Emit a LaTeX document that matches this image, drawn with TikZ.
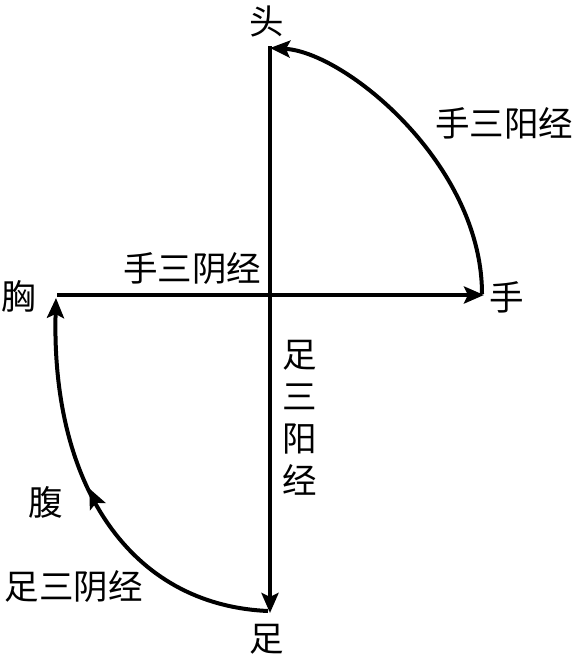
\documentclass[tikz,border=0pt]{standalone}
\usepackage{fontspec}
\setmainfont{Noto Sans CJK SC}
\usetikzlibrary{arrows.meta,decorations.markings}
\begin{document}
\begin{tikzpicture}[x=1pt,y=-1pt,
  tipstyle/.tip={Stealth[length=20pt,width=17pt,inset=4pt]},
  conn/.style={line width=4pt, -tipstyle},
  midarrow/.style={postaction={decorate},
    decoration={markings, mark=at position #1 with {\arrow{tipstyle}}}},
  lbl/.style={font=\fontsize{34.5}{42}\selectfont, inner sep=0pt, align=center}]
\useasboundingbox (0,0) rectangle (577,659);
% labels
\node[lbl] (tou) at (267,21) {头};
\node[lbl] (shou) at (507,297) {手};
\node[lbl] (xiong) at (19,296) {胸};
\node[lbl] (zu) at (267,639) {足};
\node[lbl] (fu) at (46,502) {腹};
\node[lbl] (sy) at (504,123) {手三阳经};
\node[lbl] (syin) at (192,269) {手三阴经};
\node[lbl] (zyin) at (74,587) {足三阴经};
\node[lbl] (zy) at (300,418) {足\\三\\阳\\经};
% end points
\coordinate (top) at (270,46);
\coordinate (bot) at (270,613);
\coordinate (left) at (57,295);
\coordinate (right) at (484,295);
\coordinate (rarcs) at (482,294);
\coordinate (rarce) at (270,48);
\coordinate (larcs) at (268,611);
\coordinate (larce) at (56,298);
% axes
\draw[conn] (left) -- (right);
\draw[conn] (top) -- (bot);
% arcs
\draw[conn] (rarcs) .. controls (482,164) and (345,52) .. (rarce);
\draw[conn, midarrow=0.54] (larcs) .. controls (130,605) and (51,485) .. (larce);
\end{tikzpicture}
\end{document}
